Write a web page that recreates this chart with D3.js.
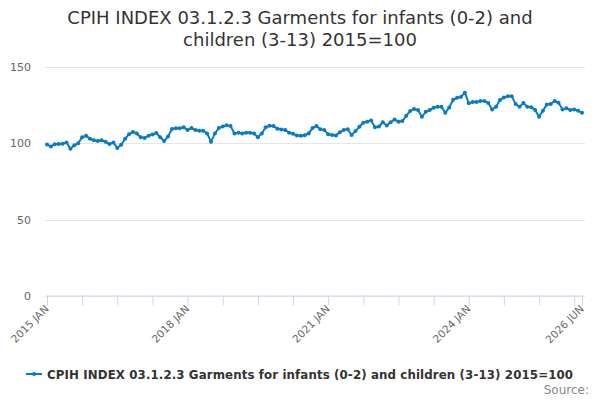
<!DOCTYPE html>
<html>
<head>
<meta charset="utf-8">
<script src="https://cdn.jsdelivr.net/npm/d3@7"></script>
<style>
  body { margin: 0; background: #fff; }
  text { font-family: "DejaVu Sans", Verdana, sans-serif; }
</style>
</head>
<body>
<div id="chart"></div>
<script>
// series title, used for title and legend
const seriesName = "CPIH INDEX 03.1.2.3 Garments for infants (0-2) and children (3-13) 2015=100";
const titleLines = ["CPIH INDEX 03.1.2.3 Garments for infants (0-2) and", "children (3-13) 2015=100"];

// monthly values, 2015 JAN .. 2026 JUN, one array per year
const v2015 = [99.2, 98.0, 99.4, 99.6, 99.8, 100.5, 96.5, 98.7, 100.0, 104.0, 105.0, 103.0];
const v2016 = [102.0, 101.5, 102.0, 101.0, 99.5, 100.5, 97.0, 99.0, 103.0, 106.0, 107.5, 106.5];
const v2017 = [104.0, 103.5, 105.0, 105.8, 106.8, 104.0, 101.5, 104.5, 109.4, 109.8, 109.8, 110.6];
const v2018 = [108.7, 110.0, 108.7, 108.3, 108.3, 106.5, 101.0, 106.5, 110.0, 111.0, 111.8, 111.3];
const v2019 = [106.5, 107.0, 106.5, 107.0, 107.0, 106.5, 104.0, 106.5, 110.5, 111.5, 111.3, 109.5];
const v2020 = [109.0, 108.7, 107.0, 106.3, 105.2, 105.0, 105.3, 106.5, 110.0, 111.3, 109.3, 108.7];
const v2021 = [106.0, 105.5, 105.2, 107.2, 108.7, 109.3, 105.5, 108.0, 110.9, 113.5, 114.2, 114.9];
const v2022 = [110.5, 111.0, 113.8, 111.7, 113.8, 115.6, 114.2, 114.6, 118.0, 121.2, 122.5, 121.8];
const v2023 = [117.4, 120.7, 121.8, 123.3, 124.0, 124.0, 120.0, 123.5, 128.5, 129.8, 130.4, 133.2];
const v2024 = [126.2, 127.0, 127.0, 127.7, 127.7, 126.4, 122.2, 124.0, 128.4, 130.0, 130.9, 130.9];
const v2025 = [125.7, 124.0, 126.4, 124.0, 123.6, 121.9, 117.4, 121.4, 125.5, 125.8, 127.7, 126.6];
const v2026 = [122.2, 122.9, 121.9, 122.2, 121.4, 120.0];

const years = [2015, 2016, 2017, 2018, 2019, 2020, 2021, 2022, 2023, 2024, 2025, 2026];
const monthNames = ["JAN", "FEB", "MAR", "APR", "MAY", "JUN", "JUL", "AUG", "SEP", "OCT", "NOV", "DEC"];
const yTicks = [0, 50, 100, 150];
const xLabels = ["2015 JAN", "2018 JAN", "2021 JAN", "2024 JAN", "2026 JUN"];

const values = [v2015, v2016, v2017, v2018, v2019, v2020, v2021, v2022, v2023, v2024, v2025, v2026];
const data = [];
values.forEach((arr, yi) => {
    arr.forEach((v, m) => {
        data.push({ label: years[yi] + " " + monthNames[m], value: v });
    });
});
const labels = data.map(d => d.label);

const width = 600, height = 400;
const margin = { left: 47, right: 18, top: 67, bottom: 104 };

const svg = d3.select("#chart").append("svg")
    .attr("width", width)
    .attr("height", height);

// title
svg.append("text")
    .attr("x", width / 2)
    .attr("y", 24)
    .attr("text-anchor", "middle")
    .attr("fill", "#333333")
    .attr("font-size", "18px")
    .selectAll("tspan")
    .data(titleLines)
    .enter().append("tspan")
    .attr("x", width / 2)
    .attr("dy", (d, i) => i === 0 ? 0 : 22)
    .text(d => d);

const x = d3.scalePoint()
    .domain(labels)
    .range([margin.left, 582]);

const y = d3.scaleLinear()
    .domain([0, 150])
    .range([296, 67]);

// gridlines
svg.append("g")
    .selectAll("line")
    .data(yTicks)
    .enter().append("line")
    .attr("x1", margin.left - 2)
    .attr("x2", 585)
    .attr("y1", d => Math.round(y(d)) + 0.5)
    .attr("y2", d => Math.round(y(d)) + 0.5)
    .attr("stroke", "#e6e6e6")
    .attr("stroke-width", 1);

// y axis labels
const yAxis = d3.axisLeft(y).tickValues(yTicks).tickSize(0).tickPadding(0);
const gy = svg.append("g")
    .attr("transform", "translate(31,0)")
    .call(yAxis);
gy.select(".domain").remove();
gy.selectAll("text")
    .attr("fill", "#666666")
    .attr("font-size", "11px")
    .attr("font-family", "DejaVu Sans, sans-serif");

// x axis: ticks every 9 months plus last month
const tickLabels = labels.filter((d, i) => i % 9 === 0).concat([labels[labels.length - 1]]);
const xAxis = d3.axisBottom(x)
    .tickValues(tickLabels)
    .tickSize(10)
    .tickFormat(d => xLabels.includes(d) ? d : "");
const gx = svg.append("g")
    .attr("transform", "translate(0,295.5)")
    .call(xAxis);
gx.select(".domain")
    .attr("stroke", "#ccd6eb")
    .attr("d", "M" + (margin.left - 0.5) + ",0.5H" + (582.5));
gx.selectAll(".tick line").attr("stroke", "#ccd6eb");
gx.selectAll(".tick text")
    .attr("fill", "#666666")
    .attr("font-size", "10.5px")
    .attr("font-family", "DejaVu Sans, sans-serif")
    .attr("text-anchor", "end")
    .attr("y", 0)
    .attr("dy", "0")
    .attr("transform", "translate(2,14) rotate(-45)");

// line
const line = d3.line()
    .x(d => x(d.label))
    .y(d => y(d.value));

svg.append("path")
    .datum(data)
    .attr("fill", "none")
    .attr("stroke", "#0a7bc2")
    .attr("stroke-width", 2)
    .attr("d", line);

svg.append("g")
    .selectAll("circle")
    .data(data)
    .enter().append("circle")
    .attr("cx", d => x(d.label))
    .attr("cy", d => y(d.value))
    .attr("r", 2)
    .attr("fill", "#0a7bc2");

// legend
const legend = svg.append("g").attr("transform", "translate(26,374)");
legend.append("line")
    .attr("x1", 0).attr("x2", 16)
    .attr("y1", 0).attr("y2", 0)
    .attr("stroke", "#0a7bc2")
    .attr("stroke-width", 2);
legend.append("circle")
    .attr("cx", 8).attr("cy", 0).attr("r", 2)
    .attr("fill", "#0a7bc2");
legend.append("text")
    .attr("x", 21)
    .attr("y", 4.5)
    .attr("fill", "#333333")
    .attr("font-size", "11.8px")
    .attr("font-weight", "bold")
    .attr("textLength", 526)
    .attr("lengthAdjust", "spacing")
    .text(seriesName);

// credits
svg.append("text")
    .attr("x", 589)
    .attr("y", 394)
    .attr("text-anchor", "end")
    .attr("fill", "#888888")
    .attr("font-size", "12px")
    .text("Source:");
</script>
</body>
</html>
